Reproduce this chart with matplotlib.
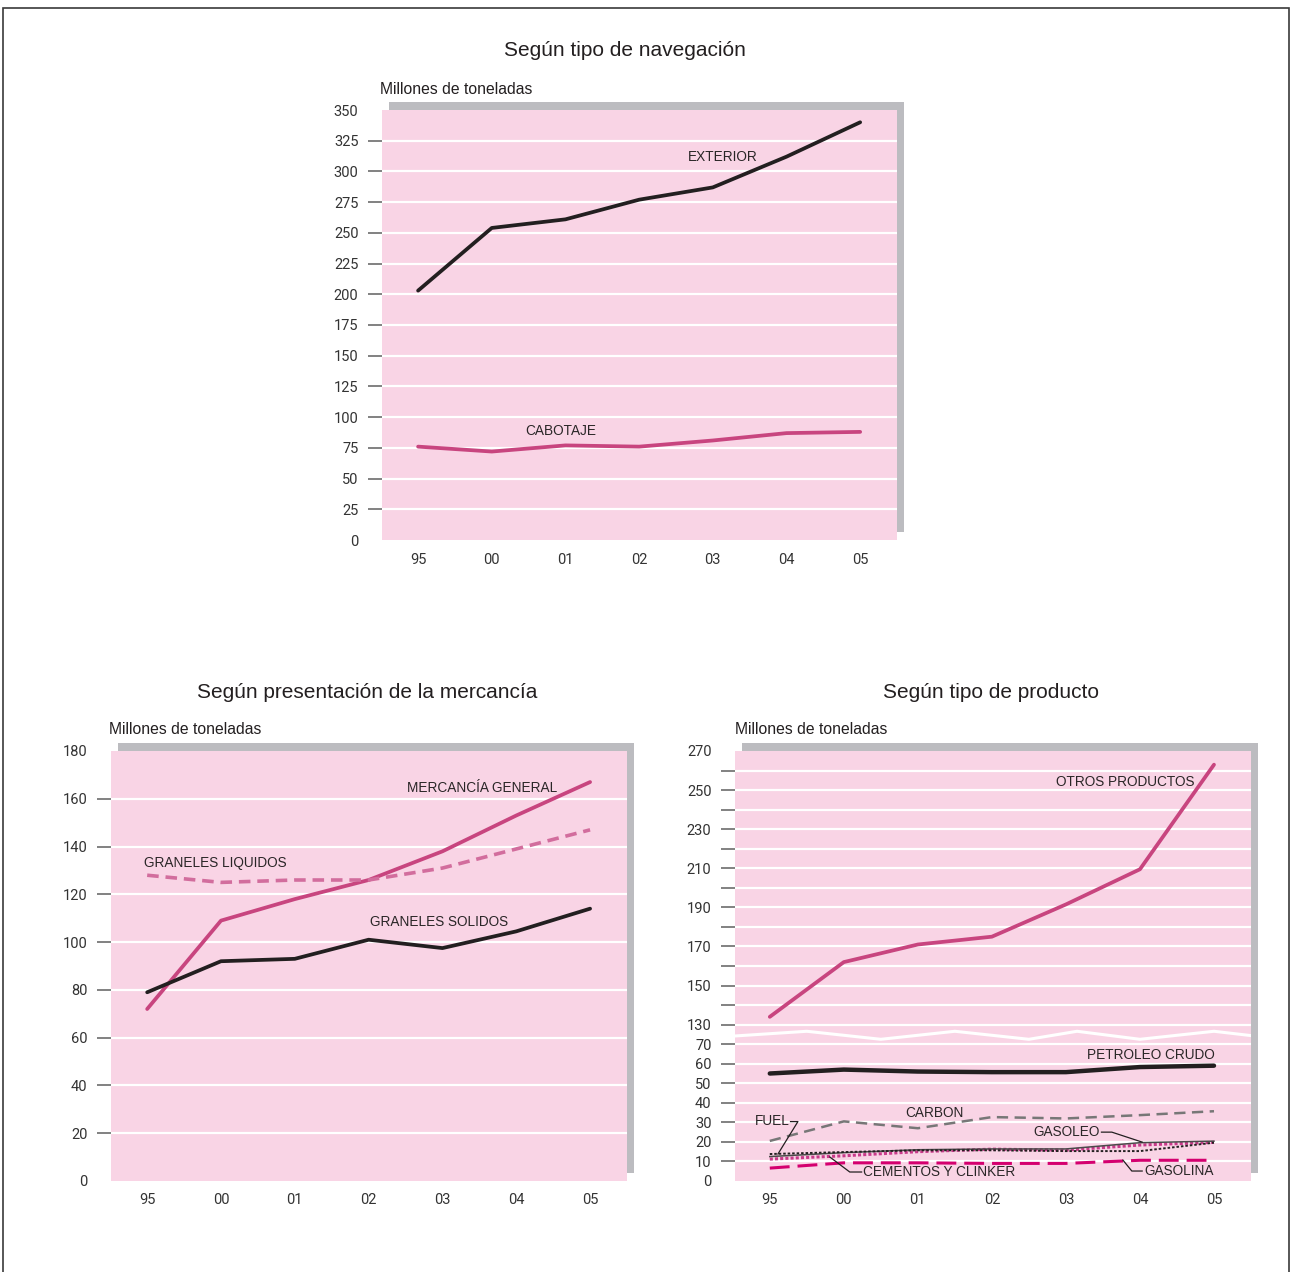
import matplotlib.pyplot as plt
from matplotlib.patches import Rectangle

# =========================
# DATOS (millones de toneladas)
# =========================
years = ["95", "00", "01", "02", "03", "04", "05"]

# Según tipo de navegación
exterior = [203, 254, 261, 277, 287, 312, 340]
cabotaje = [76, 72, 77, 76, 81, 87, 88]

# Según presentación de la mercancía
mercancia_general = [72, 109, 118, 126, 138, 153, 167]
graneles_liquidos = [128, 125, 126, 126, 131, 139, 147]
graneles_solidos = [79, 92, 93, 101, 97.5, 104.5, 114]

# Según tipo de producto
otros_productos = [134, 162, 171, 175, 191.5, 209.5, 263]
petroleo_crudo = [55, 57, 56, 55.7, 55.7, 58.3, 59]
carbon = [20.5, 30.5, 27, 32.7, 32, 33.7, 35.7]
gasoleo = [12.5, 14.5, 16, 16.4, 16.4, 19.6, 20.4]
fuel = [13.8, 14.8, 15.7, 15.7, 15.3, 15.3, 19.6]
cementos = [11.2, 12.9, 15, 16.3, 15.8, 18.4, 19.8]
gasolina = [6.6, 9.3, 9.3, 9, 9, 10.6, 10.6]

# eje cortado: los valores >= 130 se desplazan hacia abajo
BREAK_SHIFT = 50
prod_ticks = [0, 10, 20, 30, 40, 50, 60, 70, 130, 140, 150, 160, 170, 180, 190,
              200, 210, 220, 230, 240, 250, 260, 270]
prod_labels = ["0", "10", "20", "30", "40", "50", "60", "70", "130", "", "150", "",
               "170", "", "190", "", "210", "", "230", "", "250", "", "270"]

# =========================
# ESTILO
# =========================
W, H = 1290, 1272
PINK = "#f9d4e5"
SHADOW = "#bcbcc0"
MAGENTA = "#c8457f"
BLACK = "#231f20"
TICK_COLOR = "#333333"
NARROW = ["Roboto", "DejaVu Sans"]
SANS = ["Liberation Sans", "DejaVu Sans"]

plt.rcParams["font.family"] = SANS

fig = plt.figure(figsize=(W / 100, H / 100), dpi=100)
fig.patch.set_facecolor("white")

# marco exterior
fig.add_artist(Rectangle((3 / W, -0.05), 1286 / W, 1 - 8 / H + 0.05,
                         transform=fig.transFigure, fill=False,
                         edgecolor="#3a3a3a", linewidth=1.2))


def px_axes(x0, y0, x1, y1):
    """Crea ejes a partir de la caja rosa en pixeles."""
    return fig.add_axes([x0 / W, 1 - y1 / H, (x1 - x0) / W, (y1 - y0) / H])


def setup(ax, ylim, ticks, labels, xlim=(-0.49, 6.5)):
    ax.set_facecolor("none")
    bbox = ax.get_position()
    dx = 7 / (bbox.width * W)
    dy = 8 / (bbox.height * H)
    ax.add_patch(Rectangle((dx, dy), 1, 1, transform=ax.transAxes,
                           facecolor=SHADOW, edgecolor="none", zorder=0.1,
                           clip_on=False))
    ax.add_patch(Rectangle((0, 0), 1, 1, transform=ax.transAxes,
                           facecolor=PINK, edgecolor="none", zorder=0.2,
                           clip_on=False))
    ax.set_xlim(*xlim)
    ax.set_ylim(*ylim)
    for s in ax.spines.values():
        s.set_visible(False)
    ax.set_xticks(range(len(years)))
    ax.set_xticklabels(years, fontfamily=NARROW, fontsize=10.5, color=TICK_COLOR)
    ax.tick_params(axis="x", length=0, pad=9)
    ax.set_yticks(ticks)
    ax.set_yticklabels(labels, fontfamily=NARROW, fontsize=10.5, color=TICK_COLOR)
    ax.tick_params(axis="y", length=10, width=1.3, color="#777777", pad=7)
    ticks_obj = ax.yaxis.get_major_ticks()
    ticks_obj[0].tick1line.set_visible(False)
    ticks_obj[-1].tick1line.set_visible(False)
    inner = [t for t in ticks if ylim[0] < t < ylim[1]]
    ax.hlines(inner, xlim[0], xlim[1], colors="white", linewidth=1.6, zorder=0.5)


def title(x, y, text):
    fig.text(x / W, 1 - y / H, text, ha="center", va="center", fontsize=15,
             color=BLACK)


def units(x, y):
    fig.text(x / W, 1 - y / H, "Millones de toneladas", ha="left",
             va="center", fontsize=11.3, color=BLACK)


def lab(ax, x, y, text, ha="center"):
    ax.text(x, y, text, ha=ha, va="center", fontsize=9.8, color="#2a2627",
            zorder=5)


xs = list(range(len(years)))

# =========================
# SEGÚN TIPO DE NAVEGACIÓN
# =========================
ax1 = px_axes(382, 110, 897, 540)
t1 = list(range(0, 351, 25))
setup(ax1, (0, 350), t1, [str(v) for v in t1])
ax1.plot(xs, exterior, color=BLACK, lw=2.7, zorder=3, solid_capstyle="round")
ax1.plot(xs, cabotaje, color=MAGENTA, lw=2.7, zorder=3, solid_capstyle="round")
lab(ax1, 4.13, 311.5, "EXTERIOR")
lab(ax1, 1.93, 89, "CABOTAJE")
title(625, 51, "Según tipo de navegación")
units(380, 89)

# =========================
# SEGÚN PRESENTACIÓN DE LA MERCANCÍA
# =========================
ax2 = px_axes(111, 751, 627, 1181)
t2 = list(range(0, 181, 20))
setup(ax2, (0, 180), t2, [str(v) for v in t2])
ax2.plot(xs, mercancia_general, color=MAGENTA, lw=2.7, zorder=3,
         solid_capstyle="round")
ax2.plot(xs, graneles_liquidos, color="#d26d9d", lw=2.6, zorder=3,
         dashes=(3.2, 1.9))
ax2.plot(xs, graneles_solidos, color=BLACK, lw=2.7, zorder=3,
         solid_capstyle="round")
lab(ax2, 4.54, 164.5, "MERCANCÍA GENERAL")
lab(ax2, 0.92, 133, "GRANELES LIQUIDOS")
lab(ax2, 3.96, 108.5, "GRANELES SOLIDOS")
title(367, 692, "Según presentación de la mercancía")
units(109, 730)

# =========================
# SEGÚN TIPO DE PRODUCTO
# =========================
ax3 = px_axes(735, 751, 1251, 1181)


def shift(vals):
    return [v - BREAK_SHIFT if v >= 130 else v for v in vals]


setup(ax3, (0, 220), shift(prod_ticks), prod_labels, xlim=(-0.47, 6.5))

# marca de corte del eje
brk_x = [-0.47, 0.5, 1.5, 2.5, 3.5, 4.15, 5.0, 6.0, 6.5]
brk_y = [74.2, 76.6, 72.5, 76.6, 72.5, 76.6, 72.5, 76.6, 74.4]
ax3.plot(brk_x, brk_y, color="white", lw=2.2, zorder=0.6)

ax3.plot(xs, shift(otros_productos), color=MAGENTA, lw=2.7, zorder=3,
         solid_capstyle="round")
ax3.plot(xs, petroleo_crudo, color=BLACK, lw=3.2, zorder=3,
         solid_capstyle="round")
ax3.plot(xs, carbon, color="#777777", lw=1.8, zorder=3, dashes=(4.5, 2.6))
ax3.plot(xs, gasolina, color="#d4006f", lw=2.2, zorder=3, dashes=(6.5, 2.6))
ax3.plot(xs, cementos, color="#c83a8a", lw=2.2, zorder=3, dashes=(1.0, 0.7))
ax3.plot(xs, gasoleo, color="#4a4a4a", lw=1.1, zorder=3.2)
ax3.plot(xs, fuel, color=BLACK, lw=1.4, zorder=3.3, dashes=(1.3, 1.0))

lab(ax3, 4.80, 204.3, "OTROS PRODUCTOS")
lab(ax3, 5.15, 64.4, "PETROLEO CRUDO")
lab(ax3, 2.23, 34.7, "CARBON")
lab(ax3, 0.27, 30.6, "FUEL", ha="right")
lab(ax3, 4.46, 25.0, "GASOLEO", ha="right")
lab(ax3, 5.06, 5.0, "GASOLINA", ha="left")
lab(ax3, 1.26, 4.5, "CEMENTOS Y CLINKER", ha="left")

# lineas guia de las etiquetas
lead = dict(color=BLACK, lw=0.9, zorder=4)
ax3.plot([0.28, 0.38, 0.11], [30.4, 30.4, 13.8], **lead)
ax3.plot([4.48, 4.62, 5.03], [25.0, 25.0, 19.9], **lead)
ax3.plot([4.77, 4.89, 5.03], [10.7, 5.1, 5.1], **lead)
ax3.plot([0.81, 1.08, 1.24], [12.3, 4.6, 4.6], **lead)

title(991, 692, "Según tipo de producto")
units(735, 730)

fig.savefig("out.png", dpi=100)
